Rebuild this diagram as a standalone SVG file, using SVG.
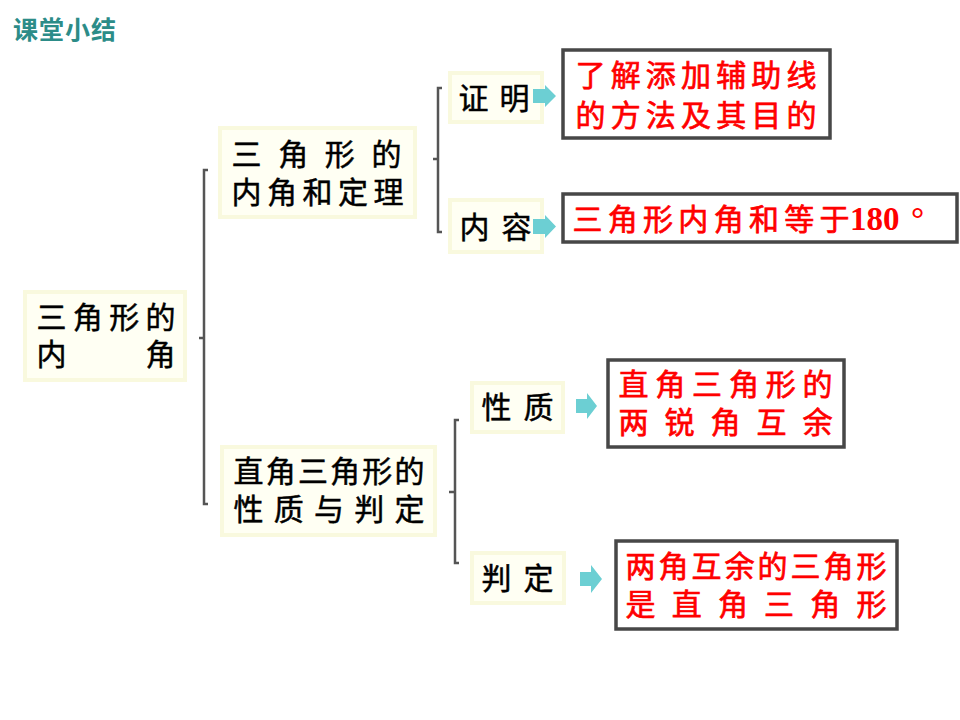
<svg xmlns="http://www.w3.org/2000/svg" width="960" height="720" viewBox="0 0 960 720">
<style>
.bg{fill:#ffffff}
.cream{fill:#FFFFF3;stroke:#F9F9DE;stroke-width:4}
.redbox{fill:#ffffff;stroke:#474747;stroke-width:3.5}
.blk{font-family:"Noto Sans CJK SC","Noto Sans CJK JP",sans-serif;font-size:30px;fill:#000000;stroke:#000000;stroke-width:0.5}
.red{font-family:"Noto Sans CJK SC","Noto Sans CJK JP",sans-serif;font-size:30px;fill:#FF0000;stroke:#FF0000;stroke-width:0.7}
.num{font-family:"Liberation Serif",serif;font-size:33px;font-weight:bold;fill:#FF0000;stroke:none}
.title{font-family:"Noto Sans CJK SC","Noto Sans CJK JP",sans-serif;font-size:25px;font-weight:bold;fill:#2C8C88}
.brk{fill:none;stroke:#555555;stroke-width:2.5}
.arr{fill:#6CCFD3}
</style>
<rect class="bg" x="0" y="0" width="960" height="720"/>
<g id="title">
<text class="title" x="13" y="39" textLength="103" lengthAdjust="spacing">课堂小结</text>
</g>
<g id="root">
<rect class="cream" x="25" y="292" width="160" height="88"/>
<text class="blk"><tspan x="36.5" y="328" textLength="139" lengthAdjust="spacing">三角形的</tspan><tspan x="36.5" y="365">内</tspan><tspan x="145.5" y="365">角</tspan></text>
</g>
<g id="node-sum">
<rect class="cream" x="220" y="128" width="195" height="89"/>
<text class="blk"><tspan x="231.5" y="165" textLength="170" lengthAdjust="spacing">三 角 形 的</tspan><tspan x="231.5" y="203" textLength="172" lengthAdjust="spacing">内角和定理</tspan></text>
</g>
<g id="node-right">
<rect class="cream" x="222" y="447" width="213" height="88"/>
<text class="blk"><tspan x="233.5" y="482" textLength="191" lengthAdjust="spacing">直角三角形的</tspan><tspan x="233.5" y="520" textLength="191" lengthAdjust="spacing">性 质 与 判 定</tspan></text>
</g>
<g id="node-proof">
<rect class="cream" x="450" y="73" width="92" height="49"/>
<text class="blk" x="458.5" y="109" textLength="71" lengthAdjust="spacing">证 明</text>
</g>
<g id="node-content">
<rect class="cream" x="450" y="200" width="92" height="52"/>
<text class="blk" x="459.5" y="238" textLength="72" lengthAdjust="spacing">内 容</text>
</g>
<g id="node-property">
<rect class="cream" x="472" y="383" width="91" height="49"/>
<text class="blk" x="481.5" y="418" textLength="72" lengthAdjust="spacing">性 质</text>
</g>
<g id="node-judge">
<rect class="cream" x="472" y="553" width="92" height="50"/>
<text class="blk" x="481.5" y="589" textLength="72" lengthAdjust="spacing">判 定</text>
</g>
<g id="box-proof">
<rect class="redbox" x="563" y="50" width="267" height="88"/>
<text class="red"><tspan x="575.5" y="86" textLength="241" lengthAdjust="spacing">了解添加辅助线</tspan><tspan x="575.5" y="126" textLength="241" lengthAdjust="spacing">的方法及其目的</tspan></text>
</g>
<g id="box-content">
<rect class="redbox" x="563" y="194" width="394" height="48"/>
<text y="230"><tspan class="red" x="572.5" textLength="277" lengthAdjust="spacing">三角形内角和等于</tspan><tspan class="num" x="850">180 </tspan><tspan class="num" x="911">°</tspan></text>
</g>
<g id="box-property">
<rect class="redbox" x="608" y="360" width="236" height="87"/>
<text class="red"><tspan x="618.5" y="395" textLength="214" lengthAdjust="spacing">直角三角形的</tspan><tspan x="618.5" y="433" textLength="214" lengthAdjust="spacing">两 锐 角 互 余</tspan></text>
</g>
<g id="box-judge">
<rect class="redbox" x="616" y="541" width="281" height="88"/>
<text class="red"><tspan x="625.5" y="577" textLength="261" lengthAdjust="spacing">两角互余的三角形</tspan><tspan x="625.5" y="615" textLength="261" lengthAdjust="spacing">是 直 角 三 角 形</tspan></text>
</g>
<g id="connectors">
<path class="brk" d="M208,170 H204 V504 H208 M204,338 H199"/>
<path class="brk" d="M442,88 H438 V232 H442 M438,159 H433"/>
<path class="brk" d="M459,420 H455 V563 H459 M455,492 H449"/>
<path class="arr" d="M533,89 H545 V85 L556,96 L545,107 V103 H533 Z"/>
<path class="arr" d="M533,219 H545 V215 L556,226.5 L545,238 V234 H533 Z"/>
<path class="arr" d="M576,399 H587 V393 L597,406 L587,419 V413 H576 Z"/>
<path class="arr" d="M580,572 H591 V565 L602,579 L591,593 V586 H580 Z"/>
</g>
</svg>
